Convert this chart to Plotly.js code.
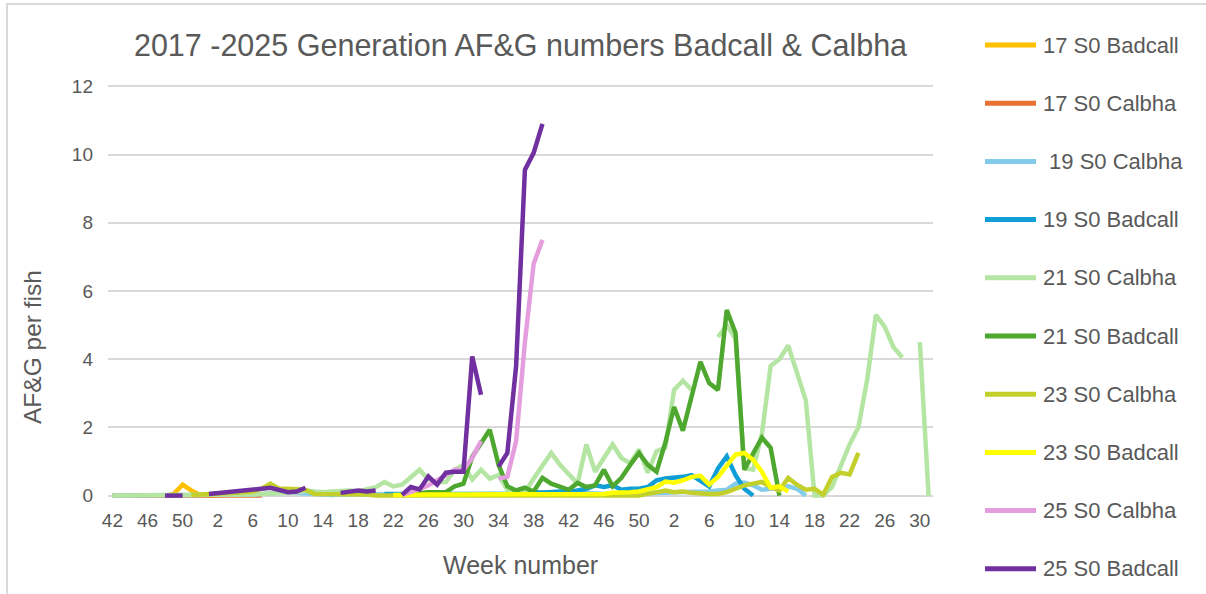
<!DOCTYPE html>
<html>
<head>
<meta charset="utf-8">
<script src="https://cdn.plot.ly/plotly-3.0.1.min.js"></script>
<style>html,body{margin:0;padding:0;background:#fff;}#chart{width:1206px;height:594px;}</style>
</head>
<body>
<div id="chart"></div>
<script>
// Category axis: week numbers (Excel category axis, wraps over years)
const weeks = [42,43,44,45,46,47,48,49,50,51,52,
  1,2,3,4,5,6,7,8,9,10,11,12,13,14,15,16,17,18,19,20,21,22,23,24,25,26,27,28,29,30,31,32,33,34,35,36,37,38,39,40,41,42,43,44,45,46,47,48,49,50,51,52,
  1,2,3,4,5,6,7,8,9,10,11,12,13,14,15,16,17,18,19,20,21,22,23,24,25,26,27,28,29,30,31];

const seriesNames = ['17 S0 Badcall','17 S0 Calbha','\u00A019 S0 Calbha','19 S0 Badcall','21 S0 Calbha',
  '21 S0 Badcall','23 S0 Calbha','23 S0 Badcall','25 S0 Calbha','25 S0 Badcall'];
const seriesColors = ['#FFC000','#E97132','#83CBEB','#0F9ED5','#B4E5A2','#4EA72E','#C3CF2A','#FFFF00','#E59EDD','#7030A0'];

// Each series: first category index + values (null = missing)
const b17Start = 0;
const b17 = [0,0,0,0,0,0,0,0.05,0.32,0.15,0.02,0,0];
const c17Start = 0;
const c17 = [0,0,0,0,0,0,0,0,0,0,0,0,0,0,0,0,0,0];
const c19Start = 0;
const c19 = [0,0,0,0,0,0,0,0,0,0,0,
  0.02,0.02,0.03,0.03,0.02,0.03,0.05,0.05,0.08,0.1,
  0.08,0.05,0.03,0.02,0.02,0.03,0.03,0.02,0.02,0.03,
  0.03,0.05,0.05,0.05,0.05,0.05,0.05,0.05,0.05,0.05,
  0.05,0.05,0.05,0.05,0.05,0.05,0.08,0.1,0.1,0.08,
  0.1,0.12,0.1,0.08,0.05,0.05,0.05,0.05,0.05,0.05,
  0.05,0.05,0.08,0.1,0.1,0.1,0.12,0.12,0.15,0.17,
  0.35,0.38,0.3,0.17,0.2,0.23,0.27,0.2,0];
const b19Start = 31;
const b19 = [0.05,0.05,0.03,0.03,0.03,0.03,0.03,0.03,0.03,0.03,0.03,0.03,0.03,0.03,0.03,
  0.05,0.08,0.1,0.08,0.1,0.12,0.1,0.15,0.2,0.3,0.25,0.3,0.17,0.2,0.2,0.25,0.45,0.5,0.52,0.55,0.6,0.45,0.27,0.8,1.15,0.6,0.2,0];
const c21Start = 0;
const c21 = [0,0,0,0,0,0,0,0,0,0,0,
  0,0,0.02,0.02,0.03,0.03,0.05,0.05,0.05,0.08,
  0.1,0.15,0.12,0.1,0.12,0.15,0.15,0.12,0.2,
  0.25,0.4,0.27,0.32,0.55,0.76,0.47,0.4,0.4,0.76,
  0.9,0.47,0.76,0.5,0.6,0.17,0.05,0.1,0.5,0.9,
  1.25,0.9,0.6,0.35,1.5,0.7,1.1,1.5,1.1,0.95,
  1.35,0.67,1.3,1.4,3.1,3.37,3.1,null,null,4.65,
  5.0,4.6,0.8,0.76,1.8,3.8,4.0,4.4,3.6,2.8,
  0,0,0.25,0.85,1.5,2.0,3.4,5.3,4.95,4.35,
  4.05,null,4.5,0];
const b21Start = 33;
const b21 = [0.02,0.05,0.08,0.1,0.1,0.1,0.27,0.35,1.14,1.55,
  1.93,0.9,0.27,0.15,0.23,0.12,0.52,0.35,0.27,0.17,
  0.37,0.25,0.3,0.76,0.27,0.52,0.9,1.25,0.9,0.7,
  1.55,2.6,1.9,2.9,3.92,3.3,3.1,5.44,4.77,0.76,
  1.2,1.7,1.4,0];
const c23Start = 9;
const c23 = [0.02,0.03,0.05,0.05,0.05,0.08,0.1,0.12,0.2,0.35,
  0.2,0.2,0.18,0.17,0.05,0.05,0.05,0.05,0.05,0.05,
  0.03,0,0,0,0,0,0,0,0,0,
  0,0,0,0,0,0,0,0,0,0,
  0,0,0,0,0,0,0,0,0,0,
  0,0,0.05,0.1,0.15,0.1,0.12,0.08,0.05,0.05,
  0.05,0.1,0.2,0.3,0.35,0.4,0.25,0.15,0.52,0.32,
  0.17,0.2,0.03,0.55,0.67,0.62,1.25];
const b23Start = 32;
const b23 = [0.02,0.03,0.03,0.03,0.03,0.03,0.03,0.03,0.03,0.03,
  0.03,0.03,0.03,0.03,0.03,0.03,0.03,0.03,0.03,0.05,
  0.05,0.05,0.05,0.05,0.05,0.08,0.08,0.1,0.12,0.18,
  0.25,0.41,0.38,0.45,0.55,0.58,0.32,0.55,0.9,1.2,
  1.25,1.05,0.7,0.23,0.27,0.12];
const c25Start = 33;
const c25 = [0.02,0.1,0.2,0.3,0.45,0.6,0.76,0.76,1.1,1.6,null,0.5,0.55,1.6,4.5,6.8,7.5];
const b25Start = 6;
const b25 = [0,0,0,null,null,0.05,0.07,0.09,0.12,0.14,
  0.17,0.2,0.23,0.17,0.1,0.12,0.23,null,null,null,
  0.08,0.1,0.15,0.12,0.15,null,null,0.02,0.25,0.18,
  0.56,0.32,0.67,0.7,0.7,4.08,2.96,null,0.85,1.25,
  3.8,9.55,10.05,10.9];

const seriesStarts = [b17Start,c17Start,c19Start,b19Start,c21Start,b21Start,c23Start,b23Start,c25Start,b25Start];
const seriesValues = [b17,c17,c19,b19,c21,b21,c23,b23,c25,b25];

const traces = seriesValues.map((vals, s) => ({
  type: 'scatter', mode: 'lines',
  name: seriesNames[s],
  x: vals.map((v, k) => seriesStarts[s] + k),
  y: vals,
  connectgaps: false,
  line: {color: seriesColors[s], width: 4.5},
  hoverinfo: 'skip'
}));

const tickIdx = weeks.map((w, i) => i).filter(i => i % 4 === 0);
const W = 1206, H = 594, ML = 108, MR = 273, MT = 83, MB = 95;
const pw = W - ML - MR, ph = H - MT - MB;
const px2x = p => (p - ML) / pw;
const px2y = p => (H - MB - p) / ph;
const txt = '#595959';
const fam = 'Liberation Sans, Arial, sans-serif';

// Legend drawn as shapes + text, Excel style (long line samples)
const legendShapes = seriesNames.map((n, s) => ({
  type: 'line', xref: 'paper', yref: 'paper',
  x0: px2x(985), x1: px2x(1036), y0: px2y(45 + 58.2 * s), y1: px2y(45 + 58.2 * s),
  line: {color: seriesColors[s], width: 5}
}));
const legendTexts = seriesNames.map((n, s) => ({
  text: n, xref: 'paper', yref: 'paper', x: px2x(1041), y: px2y(45 + 58.2 * s),
  xanchor: 'left', yanchor: 'middle', showarrow: false,
  font: {size: 22, color: txt, family: fam}
}));

const layout = {
  width: W, height: H,
  margin: {l: ML, r: MR, t: MT, b: MB},
  paper_bgcolor: '#ffffff', plot_bgcolor: '#ffffff',
  font: {family: fam, color: txt},
  title: {text: '2017 -2025 Generation AF&G numbers Badcall & Calbha',
    x: 0.5, xref: 'paper', y: 1 - 45 / H, yref: 'container', yanchor: 'middle',
    font: {size: 30.5, color: txt, family: fam}},
  xaxis: {range: [-0.5, 93.5], tickmode: 'array', tickvals: tickIdx,
    ticktext: tickIdx.map(i => String(weeks[i])),
    showgrid: false, zeroline: false, showline: false, ticks: '',
    tickfont: {size: 19, color: txt}, ticklabelstandoff: 8, fixedrange: true},
  yaxis: {range: [-0.1, 12.1], tickmode: 'array', tickvals: [0,2,4,6,8,10,12],
    showgrid: true, gridcolor: '#D9D9D9', gridwidth: 2, zeroline: false, showline: false, ticks: '',
    tickfont: {size: 19, color: txt}, ticklabelstandoff: 14, fixedrange: true},
  showlegend: false,
  annotations: [
    {text: 'Week number', xref: 'paper', yref: 'paper', x: 0.5, y: px2y(565),
      xanchor: 'center', yanchor: 'middle', showarrow: false, font: {size: 25, color: txt, family: fam}},
    {text: 'AF&G per fish', xref: 'paper', yref: 'paper', x: px2x(32), y: px2y(347),
      xanchor: 'center', yanchor: 'middle', textangle: -90, showarrow: false, font: {size: 24.5, color: txt, family: fam}}
  ].concat(legendTexts),
  shapes: [
    {type: 'rect', xref: 'paper', yref: 'paper', x0: px2x(7), x1: px2x(1230), y0: px2y(620), y1: px2y(4),
      line: {color: '#D9D9D9', width: 2}, fillcolor: 'rgba(0,0,0,0)', layer: 'below'}
  ].concat(legendShapes)
};

Plotly.newPlot('chart', traces, layout, {displayModeBar: false, staticPlot: true});
</script>
</body>
</html>
